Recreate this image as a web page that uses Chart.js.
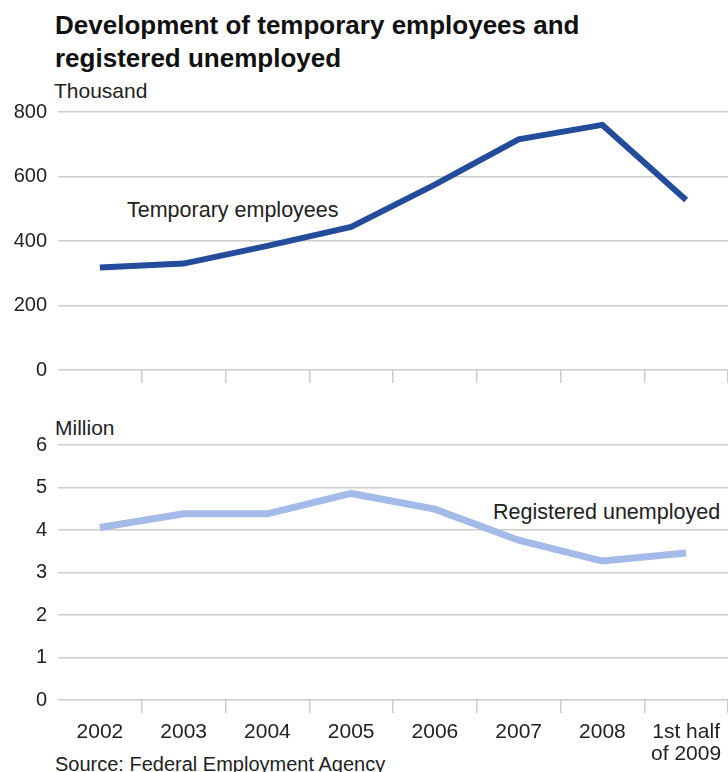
<!DOCTYPE html>
<html>
<head>
<meta charset="utf-8">
<script src="https://cdn.jsdelivr.net/npm/chart.js@4"></script>
<style>
  html, body { margin: 0; padding: 0; background: #fff; }
  #wrap { position: relative; width: 728px; height: 772px; overflow: hidden; font-family: "Liberation Sans", Arial, sans-serif; color: #222; }
  .txt { position: absolute; white-space: nowrap; font-size: 21px; line-height: 24px; }
  .series { font-size: 21.5px; }
  .source { font-size: 20px; }
  .title { position: absolute; left: 55px; top: 9px; font-size: 26px; line-height: 33px; font-weight: bold; color: #111; }
  .box { position: absolute; left: 0; width: 728px; }
</style>
</head>
<body>
<div id="wrap">
  <div class="title">Development of temporary employees and<br>registered unemployed</div>
  <div class="txt" style="left:54px; top:79px;">Thousand</div>
  <div class="txt series" style="left:127px; top:198px;">Temporary employees</div>
  <div class="txt" style="left:55px; top:416px;">Million</div>
  <div class="txt series" style="left:493px; top:500px;">Registered unemployed</div>
  <div class="txt source" style="left:55px; top:752px;">Source: Federal Employment Agency</div>
  <div class="box" style="top:98px; height:292px;"><canvas id="tempChart"></canvas></div>
  <div class="box" style="top:430px; height:342px;"><canvas id="unempChart"></canvas></div>
</div>
<script>
// ===== Data =====
const years = ["2002", "2003", "2004", "2005", "2006", "2007", "2008", ["1st half", "of 2009"]];
const temporaryEmployees = [318, 330, 385, 444, 575, 715, 760, 527]; // thousand
const registeredUnemployed = [4.06, 4.38, 4.38, 4.86, 4.49, 3.76, 3.27, 3.46]; // million
const tempTicks = [0, 200, 400, 600, 800];
const unempTicks = [0, 1, 2, 3, 4, 5, 6];

const gridGrey = "#cccccc";
const fontFamily = "'Liberation Sans', Arial, sans-serif";

function yScale(ticks, step) {
  return {
    min: ticks[0],
    max: ticks[ticks.length - 1],
    border: { display: false },
    grid: { color: gridGrey, lineWidth: 1.5, drawTicks: false },
    ticks: { stepSize: step, color: "#222", font: { family: fontFamily, size: 20 }, padding: 11 },
    afterFit: (scale) => {
      scale.width = 58;
      // keep the plot area where the layout padding puts it
      scale.paddingTop = 0;
      scale.paddingBottom = 0;
    },
  };
}

function xScale(showLabels, height) {
  return {
    offset: true,
    border: { display: false },
    grid: {
      offset: true,
      drawOnChartArea: false,
      tickLength: 13,
      lineWidth: 1.5,
      // no tick mark at the far left edge
      color: (ctx) => (ctx.index === 0 ? "rgba(0,0,0,0)" : gridGrey),
    },
    ticks: {
      display: showLabels,
      color: "#222",
      font: { family: fontFamily, size: 21, lineHeight: 1.05 },
      padding: 8,
      maxRotation: 0,
      autoSkip: false,
    },
    afterFit: (scale) => {
      scale.height = height;
      scale.paddingLeft = 0;
      scale.paddingRight = 0;
    },
  };
}

function lineChart(id, values, colour, width, ticks, step, showLabels, xHeight, padTop) {
  return new Chart(document.getElementById(id), {
    type: "line",
    data: {
      labels: years,
      datasets: [
        {
          data: values,
          borderColor: colour,
          borderWidth: width,
          pointRadius: 0,
          tension: 0,
          borderCapStyle: "butt",
        },
      ],
    },
    options: {
      responsive: true,
      maintainAspectRatio: false,
      animation: false,
      layout: { padding: { top: padTop, right: 0, left: 0, bottom: 0 } },
      plugins: { legend: { display: false }, tooltip: { enabled: false } },
      scales: {
        x: xScale(showLabels, xHeight),
        y: yScale(ticks, step),
      },
    },
  });
}

// ===== Charts =====
lineChart("tempChart", temporaryEmployees, "#234d9b", 6, tempTicks, 200, false, 20, 14);
lineChart("unempChart", registeredUnemployed, "#a4bae9", 7, unempTicks, 1, true, 72, 15);
</script>
</body>
</html>
